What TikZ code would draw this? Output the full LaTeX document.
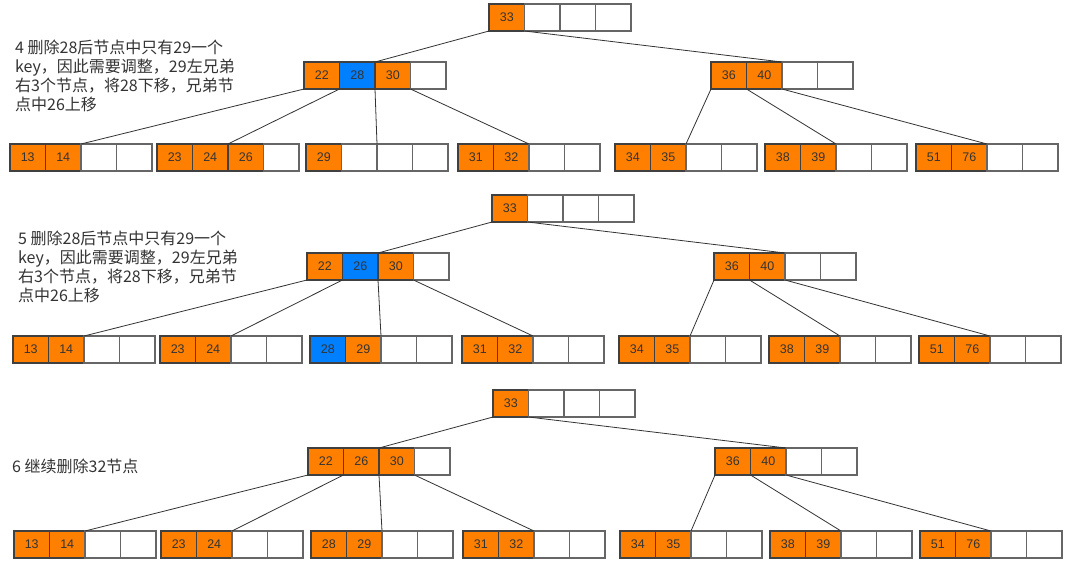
\documentclass[tikz,border=0pt]{standalone}
\usepackage{fontspec}
\setmainfont{Liberation Sans}
\newfontfamily\cjk{Noto Sans CJK SC}
\usetikzlibrary{positioning}

\definecolor{keyorange}{RGB}{255,128,0}
\definecolor{keyblue}{RGB}{0,128,255}
\definecolor{edgegray}{RGB}{51,51,51}

\newcommand{\bnode}[3]{%
  \foreach \c/\k [count=\i] in {#3}
  {
  \node[cell, \c, xshift={(\i-1)*35.5}] (#1-\i) at (#2) {\k};
  }
}

\begin{document}
\begin{tikzpicture}[x=1pt, y=-1pt,
    cell/.style={draw, anchor=north west, minimum width=35.5pt, minimum height=27pt,
      inner sep=0pt, outer sep=0pt, line width=1.1pt, text=black!80,
      font=\fontsize{12.5}{14}\selectfont},
    okey/.style={fill=keyorange, draw=black!75},
    bkey/.style={fill=keyblue, draw=black!75},
    nokey/.style={fill=white, draw=black!60},
    edge/.style={draw=edgegray, line width=0.8pt},
    note/.style={align=left, inner sep=0pt, text=black!80,
      font=\cjk\fontsize{16}{19}\selectfont}]
    \fill[white] (0,0) rectangle (1080,565);
    \useasboundingbox (0,0) rectangle (1080,565);

    % step 4
    \bnode{root1}{489,4}{okey/33,nokey/{},nokey/{},nokey/{}}
    \bnode{left1}{304,62}{okey/22,bkey/28,okey/30,nokey/{}}
    \bnode{right1}{711,62}{okey/36,okey/40,nokey/{},nokey/{}}
    \bnode{leaf11}{10,144}{okey/13,okey/14,nokey/{},nokey/{}}
    \bnode{leaf12}{157,144}{okey/23,okey/24,okey/26,nokey/{}}
    \bnode{leaf13}{306,144}{okey/29,nokey/{},nokey/{},nokey/{}}
    \bnode{leaf14}{458,144}{okey/31,okey/32,nokey/{},nokey/{}}
    \bnode{leaf15}{615,144}{okey/34,okey/35,nokey/{},nokey/{}}
    \bnode{leaf16}{765,144}{okey/38,okey/39,nokey/{},nokey/{}}
    \bnode{leaf17}{916,144}{okey/51,okey/76,nokey/{},nokey/{}}
    \node[note, anchor=north west] (note1) at (15,40)
      {4 删除28后节点中只有29一个\\key，因此需要调整，29左兄弟\\右3个节点，将28下移，兄弟节\\点中26上移};

    % step 5
    \bnode{root2}{492,195}{okey/33,nokey/{},nokey/{},nokey/{}}
    \bnode{left2}{307,253}{okey/22,bkey/26,okey/30,nokey/{}}
    \bnode{right2}{714,253}{okey/36,okey/40,nokey/{},nokey/{}}
    \bnode{leaf21}{13,336}{okey/13,okey/14,nokey/{},nokey/{}}
    \bnode{leaf22}{160,336}{okey/23,okey/24,nokey/{},nokey/{}}
    \bnode{leaf23}{310,336}{bkey/28,okey/29,nokey/{},nokey/{}}
    \bnode{leaf24}{462,336}{okey/31,okey/32,nokey/{},nokey/{}}
    \bnode{leaf25}{619,336}{okey/34,okey/35,nokey/{},nokey/{}}
    \bnode{leaf26}{769,336}{okey/38,okey/39,nokey/{},nokey/{}}
    \bnode{leaf27}{919,336}{okey/51,okey/76,nokey/{},nokey/{}}
    \node[note, anchor=north west] (note2) at (18,231)
      {5 删除28后节点中只有29一个\\key，因此需要调整，29左兄弟\\右3个节点，将28下移，兄弟节\\点中26上移};

    % step 6
    \bnode{root3}{493,390}{okey/33,nokey/{},nokey/{},nokey/{}}
    \bnode{left3}{308,448}{okey/22,okey/26,okey/30,nokey/{}}
    \bnode{right3}{715,448}{okey/36,okey/40,nokey/{},nokey/{}}
    \bnode{leaf31}{14,531}{okey/13,okey/14,nokey/{},nokey/{}}
    \bnode{leaf32}{161,531}{okey/23,okey/24,nokey/{},nokey/{}}
    \bnode{leaf33}{311,531}{okey/28,okey/29,nokey/{},nokey/{}}
    \bnode{leaf34}{463,531}{okey/31,okey/32,nokey/{},nokey/{}}
    \bnode{leaf35}{620,531}{okey/34,okey/35,nokey/{},nokey/{}}
    \bnode{leaf36}{770,531}{okey/38,okey/39,nokey/{},nokey/{}}
    \bnode{leaf37}{920,531}{okey/51,okey/76,nokey/{},nokey/{}}
    \node[note, anchor=west] (note3) at (12,466) {6 继续删除32节点};

    \foreach \d in {1,2,3}
    {
    \draw[edge] (root\d-1.south west) -- (left\d-2.north east);
    \draw[edge] (root\d-1.south east) -- (right\d-2.north east);
    \draw[edge] (left\d-1.south west) -- (leaf\d1-2.north east);
    \draw[edge] (left\d-1.south east) -- (leaf\d2-2.north east);
    \draw[edge] (left\d-2.south east) -- (leaf\d3-2.north east);
    \draw[edge] (left\d-3.south east) -- (leaf\d4-2.north east);
    \draw[edge] (right\d-1.south west) -- (leaf\d5-2.north east);
    \draw[edge] (right\d-1.south east) -- (leaf\d6-2.north east);
    \draw[edge] (right\d-2.south east) -- (leaf\d7-2.north east);
    }
\end{tikzpicture}
\end{document}
